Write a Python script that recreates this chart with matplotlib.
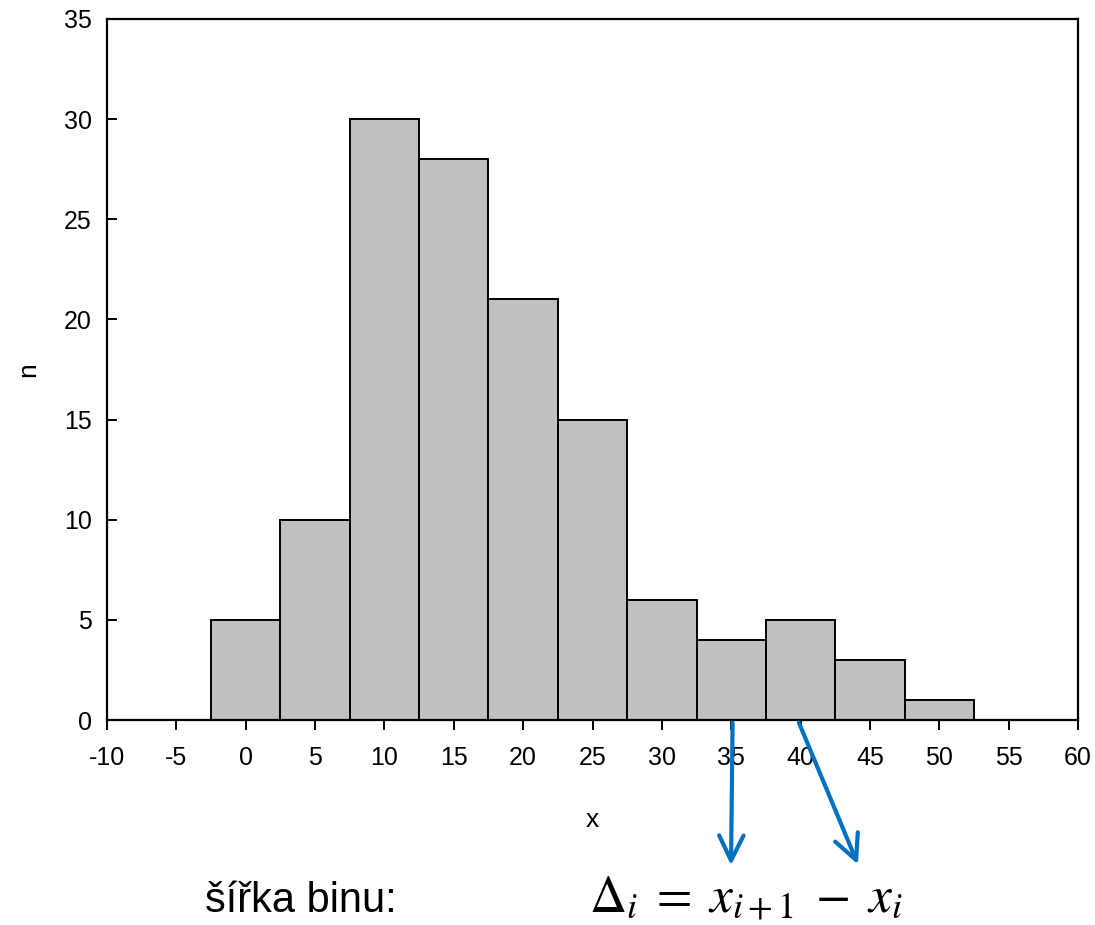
import numpy as np
import matplotlib
matplotlib.use("Agg")
import matplotlib.pyplot as plt

plt.rcParams['font.family'] = ['Liberation Sans', 'DejaVu Sans']
plt.rcParams['mathtext.fontset'] = 'stix'
plt.rcParams['axes.unicode_minus'] = False

# histogram data (bin centres, counts)
centers = [0, 5, 10, 15, 20, 25, 30, 35, 40, 45, 50]
counts = [5, 10, 30, 28, 21, 15, 6, 4, 5, 3, 1]
bin_width = 5
xticks = list(range(-10, 61, 5))
yticks = list(range(0, 36, 5))

fig = plt.figure(figsize=(10.95, 9.25), dpi=100)
ax = fig.add_axes([0.0977, 0.2216, 0.8868, 0.7579])

ax.bar(centers, counts, width=bin_width, color='#C0C0C0',
       edgecolor='black', linewidth=1.4)

ax.set_xlim(-10, 60)
ax.set_ylim(0, 35)
ax.set_xticks(xticks)
ax.set_yticks(yticks)
ax.tick_params(axis='x', direction='out', length=7, width=1.4,
               labelsize=18, pad=12)
ax.tick_params(axis='y', direction='in', length=7, width=1.4,
               labelsize=18, pad=11)
for s in ax.spines.values():
    s.set_linewidth(1.6)

ax.set_xlabel('x', fontsize=19)
ax.xaxis.set_label_coords(0.5, -0.125)
ax.set_ylabel('n', fontsize=19)
ax.yaxis.set_label_coords(-0.069, 0.5)

# arrows from bin edges down to the formula
blue = '#0070C0'
arrow_props = dict(arrowstyle='->,head_length=0.45,head_width=0.22',
                   color=blue, lw=3, mutation_scale=40)
ax.annotate('', xy=(731 / 1095, 1 - 868 / 925), xycoords='figure fraction',
            xytext=(35.1, 0), textcoords='data',
            arrowprops=arrow_props, annotation_clip=False)
ax.annotate('', xy=(859 / 1095, 1 - 867 / 925), xycoords='figure fraction',
            xytext=(39.8, 0), textcoords='data',
            arrowprops=arrow_props, annotation_clip=False)

fig.text(0.187, 0.014, 'šířka binu:', fontsize=30, ha='left', va='baseline')
fig.text(0.538, 0.014, r'$\Delta_i\;=\;x_{i+1}\;-\;x_i$', fontsize=37,
         ha='left', va='baseline')

fig.savefig('out.png', dpi=100)
